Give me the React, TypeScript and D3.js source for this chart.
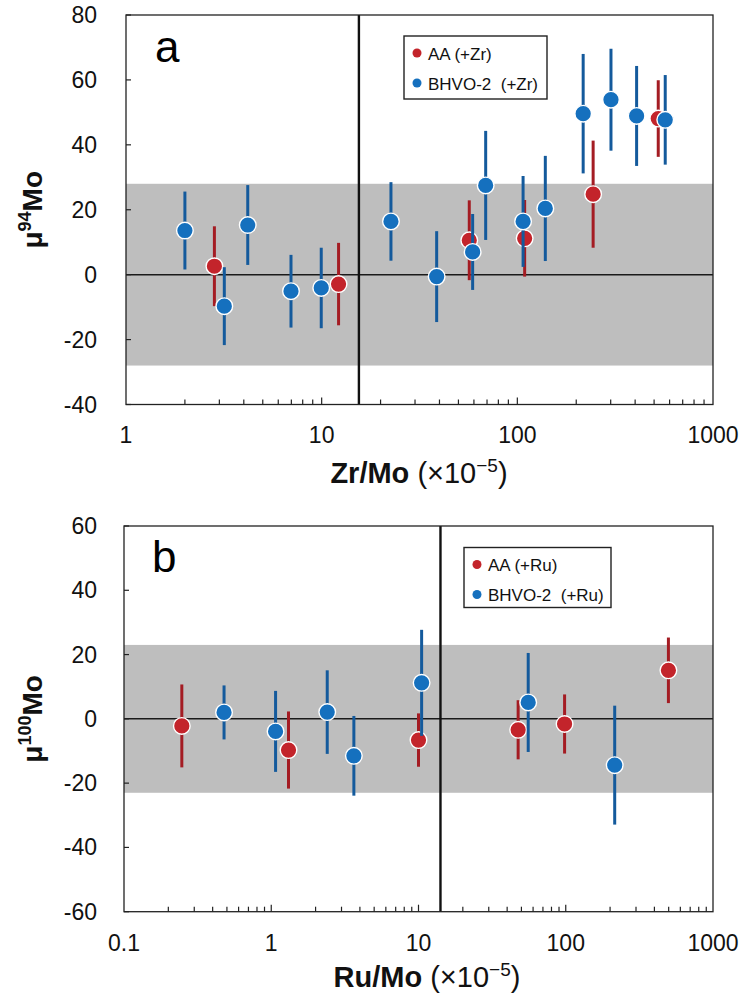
import React from 'react';
import * as d3 from 'd3';

// panel a: Zr doping
const zrAAx = [2.83, 12.2, 56.8, 109, 244, 525];
const zrAAy = [2.6, -2.9, 10.6, 11.2, 24.8, 48.1];
const zrAAerr = [12.3, 12.7, 12.3, 11.8, 16.5, 11.8];

const zrBHVOx = [2.0, 3.18, 4.19, 6.97, 9.95, 22.6, 38.7, 59.1, 68.9, 107, 139, 217, 301, 407, 570];
const zrBHVOy = [13.6, -9.7, 15.3, -5.1, -4.1, 16.4, -0.6, 7.0, 27.5, 16.4, 20.4, 49.6, 53.9, 48.9, 47.7];
const zrBHVOerr = [12, 12, 12.3, 11.2, 12.4, 12.1, 14, 11.7, 16.8, 14, 16.2, 18.4, 15.7, 15.4, 13.8];

// panel b: Ru doping
const ruAAx = [0.247, 1.31, 10.0, 47.5, 98.2, 498];
const ruAAy = [-2.2, -9.7, -6.6, -3.4, -1.6, 15.1];
const ruAAerr = [12.9, 12, 8.3, 9.2, 9.2, 10.2];

const ruBHVOx = [0.478, 1.07, 2.4, 3.64, 10.5, 55.6, 215];
const ruBHVOy = [2.0, -3.9, 2.1, -11.5, 11.2, 5.1, -14.4];
const ruBHVOerr = [8.4, 12.6, 13, 12.4, 16.5, 15.4, 18.5];

const zrXTicks = [1, 10, 100, 1000];
const ruXTicks = [0.1, 1, 10, 100, 1000];
const mu94Ticks = [-40, -20, 0, 20, 40, 60, 80];
const mu100Ticks = [-60, -40, -20, 0, 20, 40, 60];

const FONT = 'Liberation Sans, Arial, Helvetica, sans-serif';
const RED = '#c3242b';
const RED_BAR = '#a41c23';
const BLUE = '#1570be';
const BLUE_BAR = '#145a9c';

const logMinor = (lo: number, hi: number) => {
  const out: { v: number; major: boolean }[] = [];
  for (let k = Math.floor(Math.log10(lo)); k <= Math.ceil(Math.log10(hi)); k++) {
    for (let m = 1; m <= 9; m++) {
      const v = m * Math.pow(10, k);
      if (v > lo * 1.0001 && v < hi * 0.9999) out.push({ v, major: m === 1 });
    }
  }
  return out;
};

const Panel = (p: any) => {
  const x = d3.scaleLog().domain(p.xDomain).range([p.left, p.right]);
  const y = d3.scaleLinear().domain(p.yDomain).range([p.bottom, p.top]);
  const series = [
    { xs: p.aa[0], ys: p.aa[1], es: p.aa[2], fill: RED, bar: RED_BAR },
    { xs: p.bh[0], ys: p.bh[1], es: p.bh[2], fill: BLUE, bar: BLUE_BAR },
  ];
  const lg = p.legend;
  return (
    <g>
      {/* grey band */}
      <rect x={p.left} width={p.right - p.left} y={y(p.band)} height={y(-p.band) - y(p.band)} fill="#bebebe" />
      <line x1={p.left} x2={p.right} y1={y(0)} y2={y(0)} stroke="#1a1a1a" strokeWidth={1.5} />
      <line x1={x(p.vline)} x2={x(p.vline)} y1={p.top} y2={p.bottom} stroke="#111" strokeWidth={2.4} />
      <rect x={p.left} y={p.top} width={p.right - p.left} height={p.bottom - p.top} fill="none" stroke="#222" strokeWidth={1.3} />
      {/* ticks */}
      {p.yTicks.map((t: number) => (
        <g key={'y' + t}>
          <line x1={p.left} x2={p.left + 5} y1={y(t)} y2={y(t)} stroke="#222" strokeWidth={1.2} />
          <text x={97} y={y(t) + 8} textAnchor="end" fontSize={23} fontFamily={FONT} fill="#111">{t}</text>
        </g>
      ))}
      {logMinor(p.xDomain[0], p.xDomain[1]).map((t, i) => (
        <line key={'xm' + i} x1={x(t.v)} x2={x(t.v)} y1={p.bottom} y2={p.bottom - (t.major ? 7 : 5)} stroke="#222" strokeWidth={1.2} />
      ))}
      {p.xTicks.map((t: number) => (
        <text key={'xl' + t} x={x(t)} y={p.xLabelY} textAnchor="middle" fontSize={23} fontFamily={FONT} fill="#111">{String(t)}</text>
      ))}
      {/* data */}
      {series.map((s, si) => (
        <g key={'s' + si}>
          {s.xs.map((xv: number, i: number) => (
            <line key={'e' + i} x1={x(xv)} x2={x(xv)} y1={y(s.ys[i] + s.es[i])} y2={y(s.ys[i] - s.es[i])} stroke={s.bar} strokeWidth={3} />
          ))}
          {s.xs.map((xv: number, i: number) => (
            <circle key={'c' + i} cx={x(xv)} cy={y(s.ys[i])} r={8.3} fill={s.fill} stroke="#fff" strokeWidth={1.4} />
          ))}
        </g>
      ))}
      {/* panel letter */}
      <text x={p.letterX} y={p.letterY} fontSize={44} fontFamily={FONT} fill="#000">{p.letter}</text>
      {/* legend */}
      <rect x={lg.x} y={lg.y} width={lg.w} height={lg.h} fill="#fff" stroke="#222" strokeWidth={1.4} />
      <circle cx={lg.x + 13} cy={lg.y + 17} r={4.5} fill={RED} />
      <circle cx={lg.x + 13} cy={lg.y + 47} r={4.5} fill={BLUE} />
      <text x={lg.x + 24} y={lg.y + 23.5} fontSize={17} fontFamily={FONT} fill="#111" style={{ whiteSpace: 'pre' }}>{lg.labels[0]}</text>
      <text x={lg.x + 24} y={lg.y + 53.5} fontSize={17} fontFamily={FONT} fill="#111" style={{ whiteSpace: 'pre' }}>{lg.labels[1]}</text>
      {/* axis titles */}
      <text transform={`translate(42,${(p.top + p.bottom) / 2}) rotate(-90)`} textAnchor="middle" fontSize={28} fontWeight="bold" fontFamily={FONT} fill="#111">
        <tspan>μ</tspan>
        <tspan dy={-11} fontSize={18}>{p.ySup}</tspan>
        <tspan dy={11}>Mo</tspan>
      </text>
      <text x={p.xTitleX} y={p.xTitleY} textAnchor="middle" fontSize={29} fontFamily={FONT} fill="#111">
        <tspan fontWeight="bold">{p.xTitle}</tspan>
        <tspan> (×10</tspan>
        <tspan dy={-11} fontSize={19}>−5</tspan>
        <tspan dy={11}>)</tspan>
      </text>
    </g>
  );
};

export default function App() {
  return (
    <svg width={742} height={1001} style={{ position: 'absolute', left: 0, top: 0, background: '#fff' }}>
      <Panel
        left={126} right={713} top={15} bottom={404.5}
        xDomain={[1, 1000]} yDomain={[-40, 80]}
        yTicks={mu94Ticks} xTicks={zrXTicks}
        band={28} vline={15.5}
        aa={[zrAAx, zrAAy, zrAAerr]} bh={[zrBHVOx, zrBHVOy, zrBHVOerr]}
        letter="a" letterX={155} letterY={62}
        legend={{ x: 404, y: 36, w: 143, h: 63, labels: ['AA (+Zr)', 'BHVO-2  (+Zr)'] }}
        ySup="94" xTitle="Zr/Mo" xTitleX={419} xTitleY={483} xLabelY={442.5}
      />
      <Panel
        left={124} right={713} top={526} bottom={911.7}
        xDomain={[0.1, 1000]} yDomain={[-60, 60]}
        yTicks={mu100Ticks} xTicks={ruXTicks}
        band={23} vline={14.1}
        aa={[ruAAx, ruAAy, ruAAerr]} bh={[ruBHVOx, ruBHVOy, ruBHVOerr]}
        letter="b" letterX={152} letterY={571.5}
        legend={{ x: 464, y: 547.5, w: 147, h: 60, labels: ['AA (+Ru)', 'BHVO-2  (+Ru)'] }}
        ySup="100" xTitle="Ru/Mo" xTitleX={427} xTitleY={987} xLabelY={951}
      />
    </svg>
  );
}
